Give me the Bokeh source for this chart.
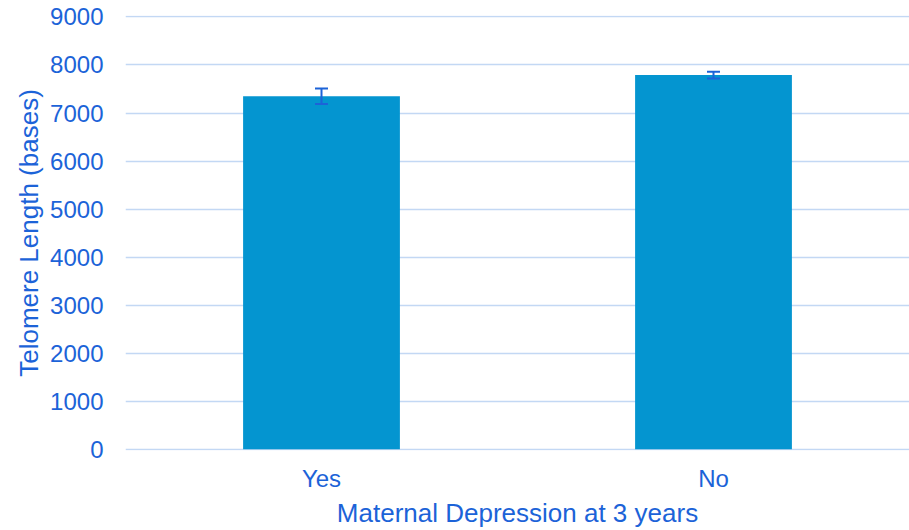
from bokeh.plotting import figure
from bokeh.models import ColumnDataSource, Whisker, TeeHead, Range1d, SingleIntervalTicker
from bokeh.embed import file_html
from bokeh.resources import INLINE

categories = ["Yes", "No"]
means = [7350, 7790]
errors = [160, 70]
y_ticks = list(range(0, 9001, 1000))

TEXT = "#1c63d8"
BAR = "#0495d0"
GRID = "#c3d8f4"
FONT = "Liberation Sans"

src = ColumnDataSource(dict(
    cat=categories,
    mean=means,
    upper=[m + e for m, e in zip(means, errors)],
    lower=[m - e for m, e in zip(means, errors)],
))

p = figure(x_range=categories, y_range=Range1d(-25, 9030), width=909, height=530,
           output_backend="svg", toolbar_location=None,
           min_border_left=125, min_border_right=0, min_border_top=15, min_border_bottom=80)
p.outline_line_color = None

p.vbar(x="cat", top="mean", width=0.4, source=src, color=BAR, line_color=None)

w = Whisker(base="cat", upper="upper", lower="lower", source=src,
            line_color=TEXT, line_width=2, level="overlay",
            upper_head=TeeHead(size=13, line_color=TEXT, line_width=2),
            lower_head=TeeHead(size=13, line_color=TEXT, line_width=2))
p.add_layout(w)

p.yaxis.ticker = SingleIntervalTicker(interval=1000)
p.xgrid.grid_line_color = None
p.ygrid.grid_line_color = GRID
p.ygrid.grid_line_width = 1.3

for ax in (p.xaxis[0], p.yaxis[0]):
    ax.axis_line_color = None
    ax.major_tick_line_color = None
    ax.minor_tick_line_color = None
    ax.major_label_text_color = TEXT
    ax.major_label_text_font = FONT
    ax.major_label_text_font_size = "24px"
    ax.axis_label_text_color = TEXT
    ax.axis_label_text_font = FONT
    ax.axis_label_text_font_size = "26px"
    ax.axis_label_text_font_style = "normal"

p.xaxis.axis_label = "Maternal Depression at 3 years"
p.yaxis.axis_label = "Telomere Length (bases)"
p.yaxis.major_label_standoff = 16
p.xaxis.major_label_standoff = 8
p.xaxis.axis_label_standoff = 3
p.yaxis.axis_label_standoff = 3

open("out.html", "w").write(file_html(p, INLINE))
